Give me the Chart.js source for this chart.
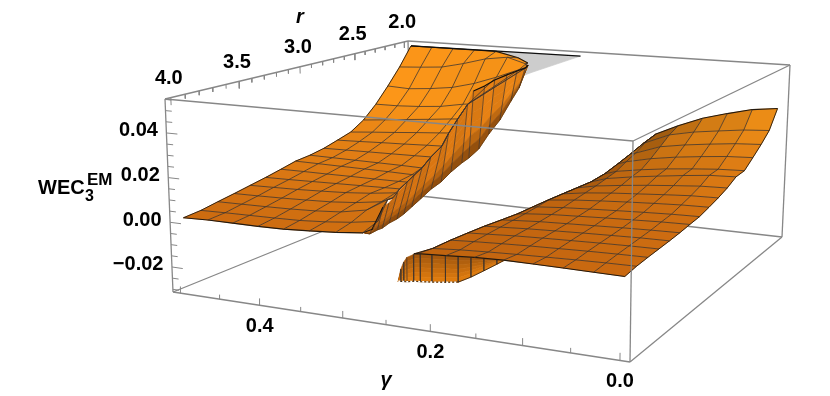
<!DOCTYPE html>
<html>
<head>
<meta charset="utf-8">
<style>
  html, body { margin: 0; padding: 0; background: #fff; }
  canvas { display: block; }
</style>
<script src="https://cdn.jsdelivr.net/npm/chart.js@4"></script>
</head>
<body>
<canvas id="surface" width="830" height="396"></canvas>
<script>
// mesh lines of the plot: r = 2 .. 4, gamma in 1/32 steps
const rMesh = [2, 2.125, 2.25, 2.375, 2.5, 2.625, 2.75, 2.875, 3, 3.125, 3.25, 3.375, 3.5, 3.625, 3.75, 3.875, 4];
const leftGamma = [0.5, 0.46875, 0.4375, 0.40625, 0.375, 0.34375, 0.3125, 0.28125, 0.25];
const rightGamma = [0, 0.03125, 0.0625, 0.09375, 0.125, 0.15625, 0.1875, 0.21875, 0.25];

// gamma where each r row stops at the fold
const leftEnd = [0.33, 0.318, 0.302, 0.368, 0.366, 0.362, 0.355, 0.353, 0.348, 0.341, 0.333, 0.325, 0.311, 0.2985, 0.287, 0.275, 0.269];
const rightEnd = [0.154, 0.158, 0.163, 0.167, 0.171, 0.1755, 0.18, 0.184, 0.188, 0.193, 0.197, 0.201, 0.206, 0.21, 0.214, 0.2185, 0.223];

// WEC values, one row per r, one column per gamma
const leftValues = [
  [0.0532, 0.0532, 0.0532, 0.0532, 0.0532, 0.0505, 0.048, 0.048, 0.048],
  [0.0432, 0.0439, 0.0448, 0.0475, 0.0508, 0.0525, 0.0496, 0.0496, 0.0496],
  [0.0346, 0.034, 0.035, 0.0365, 0.0395, 0.0437, 0.0485, 0.0501, 0.0501],
  [0.0267, 0.0268, 0.0274, 0.0284, 0.0305, 0.0308, 0.0308, 0.0308, 0.0308],
  [0.0203, 0.0214, 0.0226, 0.0237, 0.0249, 0.0252, 0.0252, 0.0252, 0.0252],
  [0.0161, 0.0171, 0.018, 0.019, 0.0199, 0.0203, 0.0203, 0.0203, 0.0203],
  [0.0141, 0.0145, 0.015, 0.0154, 0.0159, 0.0162, 0.0162, 0.0162, 0.0162],
  [0.0122, 0.0124, 0.0126, 0.0128, 0.013, 0.0132, 0.0132, 0.0132, 0.0132],
  [0.011, 0.0109, 0.0108, 0.0107, 0.0106, 0.0104, 0.0104, 0.0104, 0.0104],
  [0.0104, 0.0103, 0.0102, 0.0101, 0.01, 0.0098, 0.0097, 0.0097, 0.0097],
  [0.0088, 0.0089, 0.0089, 0.009, 0.009, 0.0091, 0.0092, 0.0092, 0.0092],
  [0.0073, 0.0075, 0.0078, 0.0081, 0.0084, 0.0087, 0.0089, 0.0089, 0.0089],
  [0.006, 0.0063, 0.0066, 0.0071, 0.0077, 0.0087, 0.0102, 0.0102, 0.0102],
  [0.0047, 0.0049, 0.0052, 0.0056, 0.0061, 0.0071, 0.0088, 0.0111, 0.0111],
  [0.0035, 0.0037, 0.0039, 0.0042, 0.0047, 0.0056, 0.0078, 0.0135, 0.0135],
  [0.0022, 0.0025, 0.0027, 0.0029, 0.0032, 0.004, 0.0052, 0.007, 0.0134],
  [0.0016, 0.002, 0.002, 0.002, 0.0022, 0.0029, 0.0037, 0.0049, 0.0071]
];
const rightValues = [
  [0.0337, 0.0322, 0.0292, 0.0258, 0.021, 0.0157, 0.0157, 0.0157, 0.0157],
  [0.0249, 0.0241, 0.0226, 0.021, 0.0185, 0.0134, 0.0132, 0.0132, 0.0132],
  [0.0203, 0.0196, 0.0183, 0.0168, 0.0148, 0.0105, 0.0098, 0.0098, 0.0098],
  [0.0163, 0.0157, 0.0145, 0.0131, 0.0112, 0.0085, 0.007, 0.007, 0.007],
  [0.0125, 0.012, 0.011, 0.0098, 0.0082, 0.0062, 0.0044, 0.0044, 0.0044],
  [0.0121, 0.0116, 0.0103, 0.0088, 0.0072, 0.0052, 0.0028, 0.0028, 0.0028],
  [0.0095, 0.0091, 0.0081, 0.007, 0.0057, 0.0042, 0.0023, 0.0023, 0.0023],
  [0.0076, 0.0073, 0.0065, 0.0056, 0.0047, 0.0035, 0.0019, 0.0019, 0.0019],
  [0.0061, 0.0058, 0.0052, 0.0045, 0.0037, 0.0028, 0.0015, 0.0015, 0.0015],
  [0.0047, 0.0044, 0.0039, 0.0033, 0.0027, 0.002, 0.001, 0.0007, 0.0007],
  [0.0041, 0.0038, 0.0033, 0.0028, 0.0022, 0.0016, 0.0006, 0.0001, 0.0001],
  [0.0034, 0.0031, 0.0027, 0.0022, 0.0017, 0.0012, 0.0004, 0, 0],
  [0.0029, 0.0027, 0.0023, 0.0019, 0.0014, 0.0009, 0.0002, -0.0002, -0.0002],
  [0.0025, 0.0023, 0.002, 0.0016, 0.0012, 0.0007, 0, -0.0005, -0.0005],
  [0.0021, 0.0019, 0.0016, 0.0012, 0.0008, 0.0003, -0.0003, -0.0009, -0.0009],
  [0.0016, 0.0014, 0.0011, 0.0007, 0.0003, -0.0002, -0.0008, -0.0017, -0.0017],
  [0.0007, 0.0008, 0.0009, 0.001, 0.001, 0.0006, -0.0002, -0.0009, -0.0012]
];

// steep walls at the folds, too steep to read r off the picture so each
// stands in one plane: r = 3 for the left wall, r = 4 for the right one
const leftWallR = 3;
const leftWallTopGamma = [0.4267, 0.4172, 0.4011, 0.3929, 0.381, 0.3677, 0.3585, 0.348, 0.3362, 0.3218, 0.3128, 0.3012, 0.2883, 0.2807, 0.2668, 0.2542, 0.2391, 0.2267, 0.2168, 0.213];
const leftWallTop = [-0.0248, -0.0229, -0.0109, -0.0086, -0.0031, 0.0028, 0.0066, 0.0104, 0.0161, 0.022, 0.0286, 0.0357, 0.0434, 0.0498, 0.0526, 0.0558, 0.0587, 0.0609, 0.0625, 0.0641];
const leftWallBottomGamma = [0.4267, 0.4199, 0.4091, 0.4024, 0.3929, 0.3823, 0.373, 0.3624, 0.3505, 0.3362, 0.3231, 0.3102, 0.2961, 0.2871, 0.2744, 0.2617, 0.2478, 0.2341, 0.2242, 0.2168];
const leftWallBottom = [-0.0248, -0.025, -0.0225, -0.0213, -0.0184, -0.0159, -0.0131, -0.0092, -0.0048, 0.0006, 0.0046, 0.0099, 0.0148, 0.0175, 0.0223, 0.0299, 0.037, 0.0464, 0.0529, 0.0606];

const rightWallR = 4;
const rightWallGamma = [0.241, 0.238, 0.2347, 0.231, 0.2235, 0.216, 0.203, 0.188, 0.174, 0.16, 0.146, 0.132, 0.124];
const rightWallTop = [-0.0136, -0.0084, -0.0053, -0.0031, -0.0015, -0.0008, -0.0004, -0.0001, 0.0002, 0.0005, 0.0008, 0.001, 0.001];
const rightWallBottom = [-0.0136, -0.0135, -0.0134, -0.0133, -0.0127, -0.0125, -0.012, -0.0113, -0.0105, -0.0077, -0.0044, -0.001, 0.001];

// grey back face showing behind the top of the left fold, at r = 2
const backGamma = [0.399, 0.257, 0.3228, 0.37, 0.399];
const backValues = [0.0533, 0.0536, 0.0434, 0.0356, 0.0356];

const rTicks = [2, 2.1, 2.2, 2.3, 2.4, 2.5, 2.6, 2.7, 2.8, 2.9, 3, 3.1, 3.2, 3.3, 3.4, 3.5, 3.6, 3.7, 3.8, 3.9, 4];
const gammaTicks = [0, 0.05, 0.1, 0.15, 0.2, 0.25, 0.3, 0.35, 0.4, 0.45, 0.5];
const wecTicks = [-0.03, -0.025, -0.02, -0.015, -0.01, -0.005, 0, 0.005, 0.01, 0.015, 0.02, 0.025, 0.03, 0.035, 0.04, 0.045, 0.05, 0.055];
const rLabels = [2, 2.5, 3, 3.5, 4];
const gammaLabels = [0, 0.2, 0.4];
const wecLabels = [-0.02, 0, 0.02, 0.04];

// plot box
const gammaRange = [-0.01, 0.51];
const rRange = [1.96, 4.04];
const wecRange = [-0.0312, 0.0552];

// box corners on the page, with the depth weight of each vertical edge
const edges = {
  left:  { top: [165, 99],  bottom: [173, 292], depth: 1.145 },
  front: { top: [633, 141], bottom: [630, 362], depth: 1 },
  back:  { top: [408, 41],  bottom: [412, 195], depth: 1.43 },
  right: { top: [790, 65],  bottom: [782, 237], depth: 1.285 }
};

const toU = g => (gammaRange[1] - g) / (gammaRange[1] - gammaRange[0]);
const toV = r => (rRange[1] - r) / (rRange[1] - rRange[0]);
const toW = z => (z - wecRange[0]) / (wecRange[1] - wecRange[0]);

function project(g, r, z) {
  const u = toU(g), v = toV(r), w = toW(z);
  const parts = [
    [edges.left, (1 - u) * (1 - v)],
    [edges.front, u * (1 - v)],
    [edges.back, (1 - u) * v],
    [edges.right, u * v]
  ];
  let x = 0, y = 0, sum = 0;
  parts.forEach(([e, c]) => {
    const k = c * e.depth;
    x += k * (e.top[0] * w + e.bottom[0] * (1 - w));
    y += k * (e.top[1] * w + e.bottom[1] * (1 - w));
    sum += k;
  });
  return { x: x / sum, y: y / sum };
}

const clamp = (a, lo, hi) => Math.min(hi, Math.max(lo, a));
const layers = [];

function addLine(points, color, width, dash) {
  layers.push({ data: points, showLine: true, fill: false, borderColor: color, borderWidth: width, borderDash: dash || [], pointRadius: 0 });
}
function addPatch(points, color) {
  layers.push({
    data: points.concat([points[0]]), showLine: true, fill: 'shape',
    backgroundColor: color, borderColor: color, borderWidth: 0.7, pointRadius: 0
  });
}
function mix(a, b, t) {
  return a.map((c, i) => c + (b[i] - c) * t);
}
const rgb = c => 'rgb(' + c.map(Math.round).join(',') + ')';

const ORANGE_DIM = [202, 105, 16];
const ORANGE_LIT = [252, 150, 24];
const MESH = 'rgba(62,52,46,0.78)';
const EDGE = 'rgb(35,25,15)';
const BOX = 'rgb(135,135,135)';

function sheetColor(a, b, c, d, shadow) {
  // a, b on row j and d, c on row j + 1: [gamma, r, z]
  const du = ((toU(b[0]) - toU(a[0])) + (toU(c[0]) - toU(d[0]))) / 2;
  const along = ((toW(b[2]) - toW(a[2])) + (toW(c[2]) - toW(d[2]))) / 2;
  const lit = Math.pow(clamp(((a[2] + b[2] + c[2] + d[2]) / 4 - 0.001) / 0.027, 0, 1), 0.85);
  const away = Math.abs(du) < 0.005 ? 0 : Math.max(0, along / du);
  const base = mix(ORANGE_DIM, ORANGE_LIT, lit);
  return rgb(base.map(v => v * clamp(1 - shadow * away, 0.62, 1)));
}

function sheetNodes(columns, ends, values, pick) {
  return values.map((row, j) => row.map((z, k) => [pick(columns[k], ends[j]), rMesh[j], z]));
}

function addSheet(nodes, shadow) {
  for (let j = 0; j < nodes.length - 1; j++) {
    for (let k = 0; k < nodes[j].length - 1; k++) {
      const a = nodes[j][k], b = nodes[j][k + 1], c = nodes[j + 1][k + 1], d = nodes[j + 1][k];
      addPatch([a, b, c, d].map(n => project(...n)), sheetColor(a, b, c, d, shadow));
    }
  }
}

function addMesh(nodes, endColor) {
  const rows = nodes.length, cols = nodes[0].length;
  nodes.forEach((row, j) => {
    const edge = j === 0 || j === rows - 1;
    addLine(row.map(n => project(...n)), edge ? EDGE : MESH, edge ? 1.1 : 1);
  });
  for (let k = 0; k < cols; k++) {
    const line = nodes.map(row => project(...row[k]));
    const color = k === 0 ? EDGE : (k === cols - 1 ? endColor : MESH);
    addLine(line, color, k === 0 || k === cols - 1 ? 0.9 : 1);
  }
}

function addWall(topG, top, bottomG, bottom, r, shade) {
  const steps = 6;
  for (let i = 0; i < topG.length - 1; i++) {
    for (let s = 0; s < steps; s++) {
      const t0 = s / steps, t1 = (s + 1) / steps;
      const at = (n, t) => project(topG[n] + (bottomG[n] - topG[n]) * t, r, top[n] + (bottom[n] - top[n]) * t);
      addPatch([at(i, t0), at(i + 1, t0), at(i + 1, t1), at(i, t1)], rgb(shade(i, (t0 + t1) / 2)));
    }
  }
}

function addWallLines(topG, top, bottomG, bottom, r, edgeColor) {
  topG.forEach((g, n) => {
    if (n > 0) addLine([project(g, r, top[n]), project(bottomG[n], r, bottom[n])], MESH, 0.9);
  });
  addLine(topG.map((g, n) => project(bottomG[n], r, bottom[n])), edgeColor, 0.8);
}

const boxLine = (a, b) => addLine([{ x: a[0], y: a[1] }, { x: b[0], y: b[1] }], BOX, 1.3);

// hidden box edges first, the surfaces paint over them
boxLine(edges.left.bottom, edges.back.bottom);
boxLine(edges.back.bottom, edges.right.bottom);
boxLine(edges.back.top, edges.back.bottom);
boxLine(edges.back.top, edges.right.top);
boxLine(edges.left.top, edges.back.top);
boxLine(edges.left.top, edges.left.bottom);
boxLine(edges.right.top, edges.right.bottom);
boxLine(edges.front.bottom, edges.right.bottom);
boxLine(edges.left.bottom, edges.front.bottom);

// ticks
rTicks.forEach(r => {
  const major = Math.round(r * 10) % 5 === 0;
  addLine([project(gammaRange[1], r, wecRange[1]), project(gammaRange[1], r, wecRange[1] - (major ? 0.0034 : 0.002))], BOX, 1);
});
gammaTicks.forEach(g => {
  const major = Math.round(g * 100) % 10 === 0;
  addLine([project(g, rRange[1], wecRange[0]), project(g, rRange[1], wecRange[0] + (major ? 0.003 : 0.002))], BOX, 1);
});
wecTicks.forEach(z => {
  const major = Math.round(z * 1000) % 20 === 0;
  addLine([project(gammaRange[1], rRange[1], z), project(gammaRange[1] - (major ? 0.014 : 0.008), rRange[1], z)], BOX, 1);
});

// grey back face
const backPoints = backGamma.map((g, i) => project(g, 2, backValues[i]));
addPatch(backPoints.slice(0, -1), 'rgb(205,205,205)');

// right sheet
const rightNodes = sheetNodes(rightGamma, rightEnd, rightValues, Math.min);
addWall(rightWallGamma, rightWallTop, rightWallGamma, rightWallBottom, rightWallR,
  (i, t) => mix([160, 86, 14], [228, 126, 14], t));
addWallLines(rightWallGamma, rightWallTop, rightWallGamma, rightWallBottom, rightWallR, EDGE);
// the cut along the wall foot is dotted white in the plot
addLine(rightWallGamma.slice(0, 9).map((g, n) => project(g, rightWallR, rightWallBottom[n])), '#fff', 1.6, [2, 2]);
addSheet(rightNodes, 0.3);
addMesh(rightNodes, EDGE);

// left sheet, the wall stays orange and only darkens towards its far edge
const leftNodes = sheetNodes(leftGamma, leftEnd, leftValues, Math.max);
addSheet(leftNodes, 0.05);
addWall(leftWallTopGamma, leftWallTop, leftWallBottomGamma, leftWallBottom, leftWallR, (i, t) => {
  const base = mix([200, 104, 14], [242, 138, 22], i / (leftWallTop.length - 1)).map(c => c * (i % 2 ? 0.95 : 1));
  return mix(base, [128, 68, 12], clamp((t - 0.62) / 0.38, 0, 1));
});
addMesh(leftNodes, MESH);
addWallLines(leftWallTopGamma, leftWallTop, leftWallBottomGamma, leftWallBottom, leftWallR, 'rgba(90,50,10,0.8)');
addLine(leftWallTopGamma.slice(13).map((g, n) => project(g, leftWallR, leftWallTop[n + 13])), 'rgb(20,15,10)', 1.2);
addLine(leftWallTopGamma.slice(1, 3).map((g, n) => project(g, leftWallR, leftWallTop[n + 1])), 'rgb(20,15,10)', 1);
addLine([project(...leftNodes[0][0]), backPoints[1]], 'rgb(15,15,15)', 1.2);

// front box edges sit on top of the surfaces
boxLine(edges.left.top, edges.front.top);
boxLine(edges.front.top, edges.right.top);
boxLine(edges.front.top, edges.front.bottom);

const axisText = {
  id: 'axisText',
  afterDatasetsDraw(chart) {
    const { ctx } = chart;
    const sx = chart.scales.x, sy = chart.scales.y;
    const text = (str, x, y, font, align) => {
      ctx.font = font;
      ctx.textAlign = align || 'center';
      ctx.textBaseline = 'middle';
      ctx.fillStyle = '#000';
      ctx.fillText(str, x, y);
    };
    const place = p => [sx.getPixelForValue(p.x), sy.getPixelForValue(p.y)];
    const tickFont = 'bold 20px "Liberation Sans"';
    ctx.save();
    rLabels.forEach(r => {
      const [x, y] = place(project(gammaRange[1], r, wecRange[1]));
      text(r.toFixed(1), x - 2, y - 19, tickFont);
    });
    gammaLabels.forEach(g => {
      const [x, y] = place(project(g, rRange[1], wecRange[0]));
      text(g.toFixed(1), x, y + 21, tickFont);
    });
    wecLabels.forEach(z => {
      const [x, y] = place(project(gammaRange[1], rRange[1], z));
      text(z.toFixed(2).replace('-', '\u2212'), x - 8.5, y - 2, tickFont, 'right');
    });
    text('r', 300, 17, 'italic bold 20px "Liberation Sans"');
    text('\u03b3', 386, 380, 'italic bold 20px "Liberation Sans"');
    text('WEC', 38, 188, tickFont, 'left');
    text('3', 85, 197, 'bold 16px "Liberation Sans"', 'left');
    text('EM', 87, 180, 'bold 17px "Liberation Sans"', 'left');
    ctx.restore();
  }
};

// chart.js paints the first dataset last
new Chart(document.getElementById('surface'), {
  type: 'scatter',
  data: { datasets: layers.slice().reverse() },
  options: {
    responsive: false,
    animation: false,
    events: [],
    layout: { padding: 0 },
    plugins: { legend: { display: false }, tooltip: { enabled: false } },
    scales: {
      x: { type: 'linear', display: false, min: 0, max: 830 },
      y: { type: 'linear', display: false, min: 0, max: 396, reverse: true }
    }
  },
  plugins: [axisText]
});
</script>
</body>
</html>
